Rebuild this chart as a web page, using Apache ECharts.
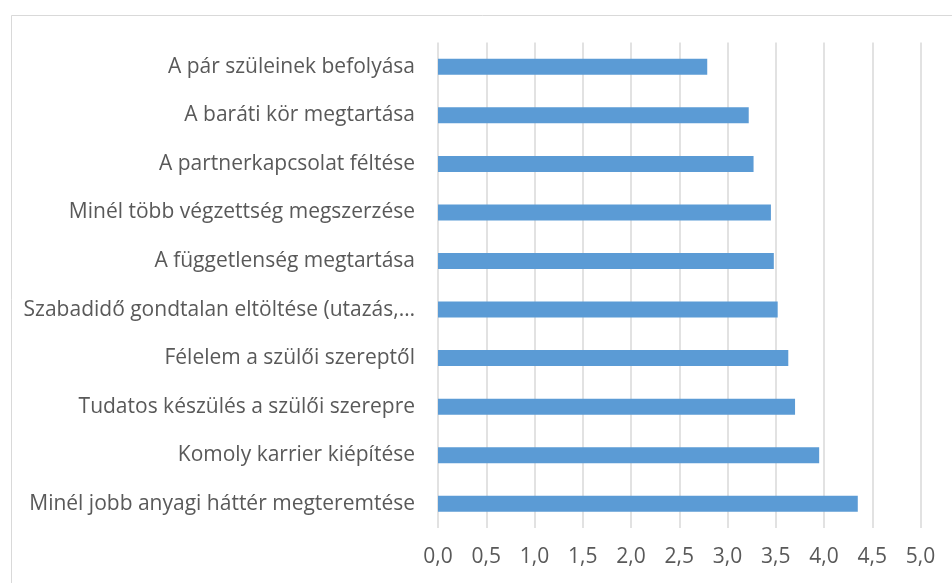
<!DOCTYPE html>
<html>
<head>
<meta charset="utf-8">
<script src="https://cdn.jsdelivr.net/npm/echarts@6/dist/echarts.min.js"></script>
<style>html,body{margin:0;padding:0;background:#fff}#c{width:952px;height:583px}</style>
</head>
<body>
<div id="c"></div>
<script>
const categories = [
  "A pár szüleinek befolyása",
  "A baráti kör megtartása",
  "A partnerkapcsolat féltése",
  "Minél több végzettség megszerzése",
  "A függetlenség megtartása",
  "Szabadidő gondtalan eltöltése (utazás,…",
  "Félelem a szülői szereptől",
  "Tudatos készülés a szülői szerepre",
  "Komoly karrier kiépítése",
  "Minél jobb anyagi háttér megteremtése"
];
const values = [2.79, 3.22, 3.27, 3.45, 3.48, 3.52, 3.63, 3.70, 3.95, 4.35];
const axisMin = 0, axisMax = 5, axisStep = 0.5;

const chart = echarts.init(document.getElementById('c'), null, {renderer: 'canvas'});
chart.setOption({
  animation: false,
  backgroundColor: '#fff',
  textStyle: {fontFamily: 'Open Sans'},
  graphic: [{
    type: 'rect', left: 9, top: 13, shape: {width: 1000, height: 600},
    style: {fill: 'none', stroke: '#d9d9d9', lineWidth: 1}, silent: true, z: -1
  }],
  grid: {left: 438, right: 31.5, top: 42.5, bottom: 55, containLabel: false},
  xAxis: {
    type: 'value', min: axisMin, max: axisMax, interval: axisStep,
    axisLine: {show: false}, axisTick: {show: false},
    splitLine: {show: true, lineStyle: {color: '#d9d9d9', width: 1.5}},
    axisLabel: {
      color: '#595959', fontSize: 21, margin: 19,
      formatter: v => v.toFixed(1).replace('.', ',')
    }
  },
  yAxis: {
    type: 'category', data: categories, inverse: true,
    axisLine: {show: false}, axisTick: {show: false}, splitLine: {show: false},
    axisLabel: {color: '#595959', fontSize: 21, margin: 23}
  },
  series: [{
    type: 'bar', data: values, barWidth: 16,
    itemStyle: {color: '#5b9bd5'}
  }]
});
</script>
</body>
</html>
